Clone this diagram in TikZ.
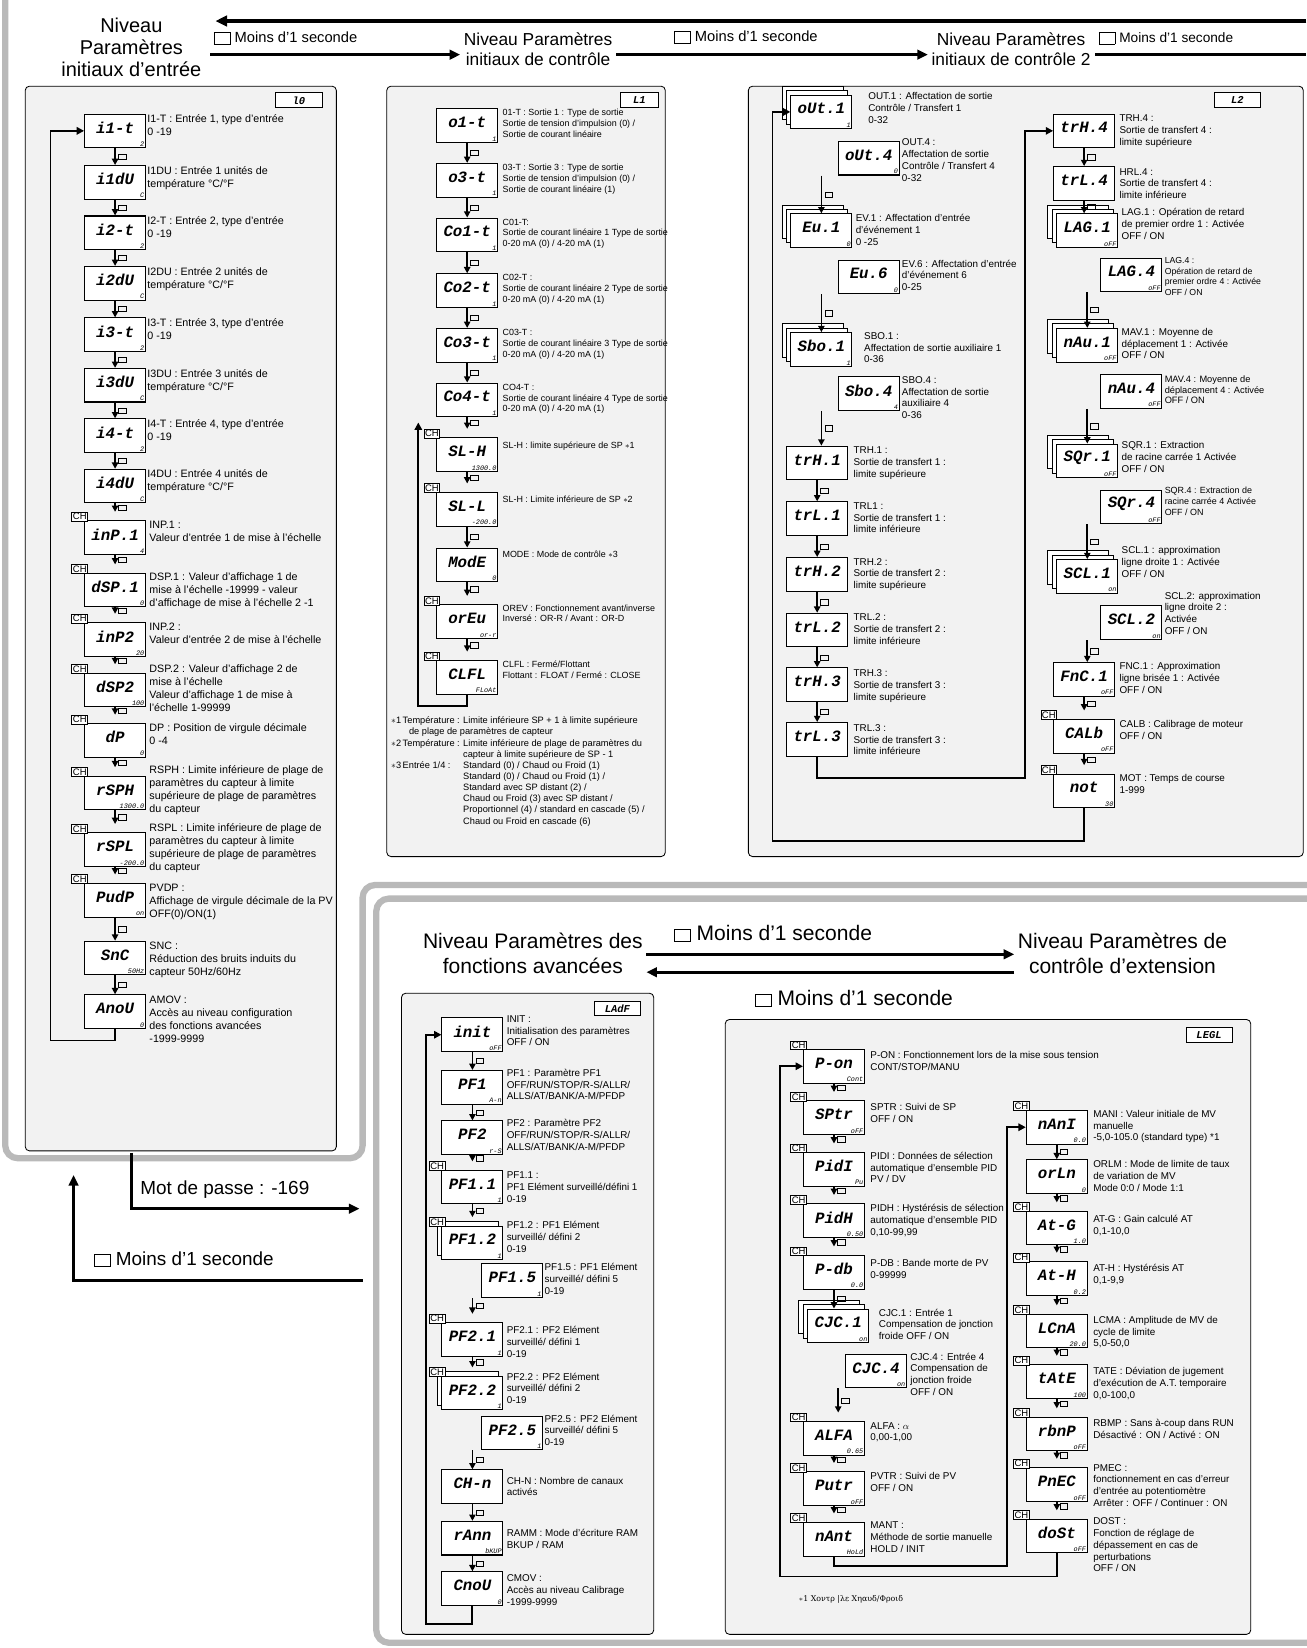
\documentclass[tikz,border=0pt]{standalone}
\usepackage{fontspec}
\setmainfont{Liberation Sans}
\newfontfamily\lcdfont{Liberation Mono}
\newfontfamily\grk{DejaVu Serif}
\usetikzlibrary{arrows.meta,positioning}
\tikzset{
  panel/.style={draw, line width=0.8pt, rounded corners=4pt, fill=gray!10},
  frame/.style={draw=gray!55, line width=6pt, rounded corners=12pt},
  lcd/.style={draw, line width=1pt, fill=white, minimum width=58pt, minimum height=32pt, anchor=north west, inner sep=0pt},
  lcdtxt/.style={font=\lcdfont\itshape\bfseries\fontsize{15}{15}\selectfont, inner sep=0pt},
  lcdsub/.style={font=\lcdfont\itshape\fontsize{6.5}{7}\selectfont, anchor=south east, inner sep=1.5pt},
  stk/.style={draw, line width=0.8pt, fill=white},
  chbox/.style={draw, line width=0.8pt, fill=white, font=\fontsize{9}{9}\selectfont, inner sep=1pt, anchor=north west},
  desc/.style={font=\fontsize{9.4}{11.2}\selectfont, align=left, anchor=north west, inner sep=0pt},
  hdr/.style={draw, line width=0.8pt, fill=white, minimum width=44pt, minimum height=14pt, anchor=north west, font=\lcdfont\itshape\bfseries\fontsize{10}{10}\selectfont, inner sep=0pt},
  keyic/.style={draw, line width=0.4pt, minimum width=7pt, minimum height=5pt, inner sep=0pt},
  dnarrow/.style={line width=1.6pt, -{Triangle[length=6pt,width=6pt]}},
  loopl/.style={line width=1.8pt, -{Triangle[length=7pt,width=7pt]}},
  bigarrow/.style={line width=2.6pt, -{Triangle[length=10pt,width=9pt]}},
  level/.style={font=\fontsize{19}{21}\selectfont, align=center},
  level2/.style={font=\fontsize{16.5}{19}\selectfont, align=center},
  moins/.style={font=\fontsize{16}{18}\selectfont},
}
\newcommand\sqbox{{\setlength\fboxsep{0pt}\raisebox{-1pt}{\fbox{\rule{0pt}{11pt}\hspace{15pt}}}}}
% display with optional subtext
\newcommand\lcd[5]{%
  \node[lcd] (#1) at (#2,#3) {};
  \node[lcdtxt] (#1t) at ([yshift=3pt]#1.center) {#4};
  \node[lcdsub] (#1s) at (#1.south east) {#5};}
\newcommand\chlcd[5]{%
  \lcd{#1}{#2}{#3}{#4}{#5}
  \node[chbox] (#1c) at ({#2-12},{#3-8}) {CH};}
\newcommand\stklcd[5]{%
  \draw[stk] ({#2-8},{#3-8}) rectangle ++(58,32);
  \draw[stk] ({#2-4},{#3-4}) rectangle ++(58,32);
  \lcd{#1}{#2}{#3}{#4}{#5}}
\newcommand\dn[2]{\draw[dnarrow] (#1.south) -- node[keyic,right=3pt] (#1k) {} (#1.south |- #2.north);}
\newcommand\dnx[3]{\draw[dnarrow] (#2.south |- #1.south) -- node[keyic,right=3pt] (#1k) {} (#2.south |- #3.north);}
\newcommand\desc[4]{\node[desc] (#1) at (#2,#3) {#4};}

\begin{document}
\begin{tikzpicture}[x=1pt,y=-1pt]
\useasboundingbox (0,0) rectangle (1243,1568);

% grey frames
\draw[frame] (5,-10) -- (5,1102) -- (345,1102) -- (345,842) -- (1260,842);
\draw[frame] (358,855) rectangle (1270,1563);

% top level headers
\node[level] (lvA) at (125,45) {Niveau\\Paramètres\\initiaux d'entrée};
\node[level2] (lvB) at (512,47) {Niveau Paramètres\\initiaux de contrôle};
\node[level2] (lvC) at (962,47) {Niveau Paramètres\\initiaux de contrôle 2};
\node[moins, font=\fontsize{14}{16}\selectfont, anchor=west] (mA) at (200,36) {\sqbox\ Moins d'1 seconde};
\node[moins, font=\fontsize{14}{16}\selectfont, anchor=west] (mB) at (638,35) {\sqbox\ Moins d'1 seconde};
\node[moins, font=\fontsize{13}{16}\selectfont, anchor=west] (mC) at (1042,36) {\sqbox\ Moins d'1 seconde};
\coordinate (topR) at (1243,20);
\coordinate (topL) at (205,20);
\coordinate (edgeR) at (1243,52);
\draw[line width=3pt, -{Triangle[length=11pt,width=10pt]}] (topR) -- (topL);
\draw[bigarrow] (mA.south west |- 0,52) -- (lvB.west |- 0,52);
\draw[bigarrow] (lvB.east |- 0,52) -- (lvC.west |- 0,52);
\draw[line width=2.6pt] (mC.south west |- 0,52) -- (edgeR);

% ---------- panel I0 ----------
\draw[panel] (24,82) rectangle (320,1095);
\node[hdr] (hI0) at (262,88) {l0};
\lcd{iAt}{80}{108}{i1-t}{2}
\lcd{iAu}{80}{157}{i1dU}{C}
\lcd{iBt}{80}{205}{i2-t}{2}
\lcd{iBu}{80}{253}{i2dU}{C}
\lcd{iCt}{80}{302}{i3-t}{2}
\lcd{iCu}{80}{350}{i3dU}{C}
\lcd{iDt}{80}{398}{i4-t}{2}
\lcd{iDu}{80}{446}{i4dU}{C}
\chlcd{inpA}{80}{495}{inP.1}{4}
\chlcd{dspA}{80}{545}{dSP.1}{0}
\chlcd{inpB}{80}{592}{inP2}{20}
\chlcd{dspB}{80}{640}{dSP2}{100}
\chlcd{dp}{80}{688}{dP}{0}
\chlcd{rsph}{80}{738}{rSPH}{1300.0}
\chlcd{rspl}{80}{792}{rSPL}{-200.0}
\chlcd{pvdp}{80}{840}{PudP}{on}
\lcd{snc}{80}{895}{SnC}{50Hz}
\lcd{amov}{80}{946}{AnoU}{0}
\dn{iAt}{iAu} \dn{iAu}{iBt} \dn{iBt}{iBu} \dn{iBu}{iCt} \dn{iCt}{iCu}
\dn{iCu}{iDt} \dn{iDt}{iDu} \dn{iDu}{inpAc} \dn{inpA}{dspAc} \dn{dspA}{inpBc}
\dn{inpB}{dspBc} \dn{dspB}{dpc} \dn{dp}{rsphc} \dn{rsph}{rsplc} \dn{rspl}{pvdpc}
\dn{pvdp}{snc} \dn{snc}{amov}
\coordinate (lpA) at (48,990);
\draw[loopl] (amov.south) |- (lpA) |- (iAt.west);
\begin{scope}[desc/.append style={font=\fontsize{10.2}{12.4}\selectfont}]
\desc{dAt}{140}{109}{I1-T : Entrée 1, type d'entrée\\ 0 -19}
\desc{dAu}{140}{158}{I1DU : Entrée 1 unités de\\température °C/°F}
\desc{dBt}{140}{206}{I2-T : Entrée 2, type d'entrée\\ 0 -19}
\desc{dBu}{140}{254}{I2DU : Entrée 2 unités de\\température °C/°F}
\desc{dCt}{140}{303}{I3-T : Entrée 3, type d'entrée\\ 0 -19}
\desc{dCu}{140}{351}{I3DU : Entrée 3 unités de\\température °C/°F}
\desc{dDt}{140}{399}{I4-T : Entrée 4, type d'entrée\\ 0 -19}
\desc{dDu}{140}{447}{I4DU : Entrée 4 unités de\\température °C/°F}
\desc{dinpA}{142}{496}{INP.1 :\\Valeur d'entrée 1 de mise à l'échelle}
\desc{ddspA}{142}{545}{DSP.1 : Valeur d'affichage 1 de\\mise à l'échelle -19999 - valeur\\d'affichage de mise à l'échelle 2 -1}
\desc{dinpB}{142}{593}{INP.2 :\\Valeur d'entrée 2 de mise à l'échelle}
\desc{ddspB}{142}{632}{DSP.2 : Valeur d'affichage 2 de\\mise à l'échelle\\Valeur d'affichage 1 de mise à\\l'échelle 1-99999}
\desc{ddp}{142}{688}{DP : Position de virgule décimale\\0 -4}
\desc{drsph}{142}{728}{RSPH : Limite inférieure de plage de\\paramètres du capteur à limite\\supérieure de plage de paramètres\\du capteur}
\desc{drspl}{142}{783}{RSPL : Limite inférieure de plage de\\paramètres du capteur à limite\\supérieure de plage de paramètres\\du capteur}
\desc{dpvdp}{142}{841}{PVDP :\\Affichage de virgule décimale de la PV\\OFF(0)/ON(1)}
\desc{dsnc}{142}{896}{SNC :\\Réduction des bruits induits du\\capteur 50Hz/60Hz}
\desc{damov}{142}{947}{AMOV :\\Accès au niveau configuration\\des fonctions avancées\\-1999-9999}
\end{scope}

% ---------- panel L1 ----------
\draw[panel] (368,82) rectangle (633,815);
\node[hdr, minimum width=36pt] (hL1) at (590,88) {L1};
\lcd{oA}{415}{103}{o1-t}{1}
\lcd{oC}{415}{155}{o3-t}{1}
\lcd{coA}{415}{207}{Co1-t}{1}
\lcd{coB}{415}{260}{Co2-t}{1}
\lcd{coC}{415}{312}{Co3-t}{1}
\lcd{coD}{415}{364}{Co4-t}{1}
\chlcd{slh}{415}{416}{SL-H}{1300.0}
\chlcd{sll}{415}{468}{SL-L}{-200.0}
\lcd{mode}{415}{521}{ModE}{0}
\chlcd{orev}{415}{575}{orEu}{or-r}
\chlcd{clfl}{415}{628}{CLFL}{FLoAt}
\dn{oA}{oC} \dn{oC}{coA} \dn{coA}{coB} \dn{coB}{coC} \dn{coC}{coD}
\dn{coD}{slhc} \dn{slh}{sllc} \dn{sll}{mode} \dn{mode}{orevc} \dn{orev}{clflc}
\coordinate (lpB) at (398,672);
\coordinate (lpC) at (398,402);
\draw[loopl] (clfl.south) |- (lpB) -- (lpC);
\begin{scope}[desc/.append style={font=\fontsize{8.5}{10.4}\selectfont}]
\desc{doA}{478}{104}{01-T : Sortie 1 : Type de sortie\\Sortie de tension d'impulsion (0) /\\Sortie de courant linéaire}
\desc{doC}{478}{156}{03-T : Sortie 3 : Type de sortie\\Sortie de tension d'impulsion (0) /\\Sortie de courant linéaire (1)}
\desc{dcoA}{478}{208}{C01-T:\\Sortie de courant linéaire 1 Type de sortie\\0-20 mA (0) / 4-20 mA (1)}
\desc{dcoB}{478}{261}{C02-T :\\Sortie de courant linéaire 2 Type de sortie\\0-20 mA (0) / 4-20 mA (1)}
\desc{dcoC}{478}{313}{C03-T :\\Sortie de courant linéaire 3 Type de sortie\\0-20 mA (0) / 4-20 mA (1)}
\desc{dcoD}{478}{365}{CO4-T :\\Sortie de courant linéaire 4 Type de sortie\\0-20 mA (0) / 4-20 mA (1)}
\desc{dslh}{478}{420}{SL-H : limite supérieure de SP $\ast$1}
\desc{dsll}{478}{472}{SL-H : Limite inférieure de SP $\ast$2}
\desc{dmode}{478}{524}{MODE : Mode de contrôle $\ast$3}
\desc{dorev}{478}{575}{OREV : Fonctionnement avant/inverse\\Inversé : OR-R / Avant : OR-D}
\desc{dclfl}{478}{629}{CLFL : Fermé/Flottant\\Flottant : FLOAT / Fermé : CLOSE}
\node[desc, font=\fontsize{8.8}{10.6}\selectfont] (fnL1) at (372,681) {%
\begin{tabular}{@{}l@{\,}l@{ }l@{}}
$\ast$1 & Température : & Limite inférieure SP + 1 à limite supérieure\\
 & \multicolumn{2}{l}{de plage de paramètres de capteur}\\
$\ast$2 & Température : & Limite inférieure de plage de paramètres du\\
 & & capteur à limite supérieure de SP - 1\\
$\ast$3 & Entrée 1/4 : & Standard (0) / Chaud ou Froid (1)\\
 & & Standard (0) / Chaud ou Froid (1) /\\
 & & Standard avec SP distant (2) /\\
 & & Chaud ou Froid (3) avec SP distant /\\
 & & Proportionnel (4) / standard en cascade (5) /\\
 & & Chaud ou Froid en cascade (6)
\end{tabular}};
\end{scope}

% ---------- panel L2 ----------
\draw[panel] (712,82) rectangle (1240,815);
\node[hdr] (hL2) at (1155,88) {L2};
\stklcd{outA}{752}{90}{oUt.1}{1}
\lcd{outD}{797}{134}{oUt.4}{0}
\stklcd{evA}{752}{203}{Eu.1}{0}
\lcd{evF}{797}{247}{Eu.6}{0}
\stklcd{sboA}{752}{316}{Sbo.1}{1}
\lcd{sboD}{797}{358}{Sbo.4}{4}
\lcd{trhA}{748}{424}{trH.1}{}
\lcd{trlA}{748}{477}{trL.1}{}
\lcd{trhB}{748}{530}{trH.2}{}
\lcd{trlB}{748}{583}{trL.2}{}
\lcd{trhC}{748}{635}{trH.3}{}
\lcd{trlC}{748}{687}{trL.3}{}
\dnx{outD}{outA}{evA} \dnx{evF}{evA}{sboA} \dnx{sboD}{sboA}{trhA}
\dn{trhA}{trlA} \dn{trlA}{trhB} \dn{trhB}{trlB} \dn{trlB}{trhC} \dn{trhC}{trlC}
\lcd{trhD}{1002}{108}{trH.4}{}
\lcd{trlD}{1002}{158}{trL.4}{}
\stklcd{lagA}{1005}{203}{LAG.1}{oFF}
\lcd{lagD}{1047}{245}{LAG.4}{oFF}
\stklcd{mavA}{1005}{312}{nAu.1}{oFF}
\lcd{mavD}{1047}{356}{nAu.4}{oFF}
\stklcd{sqrA}{1005}{422}{SQr.1}{oFF}
\lcd{sqrD}{1047}{466}{SQr.4}{oFF}
\stklcd{sclA}{1005}{532}{SCL.1}{on}
\lcd{sclB}{1047}{576}{SCL.2}{on}
\lcd{fncA}{1002}{630}{FnC.1}{oFF}
\chlcd{calb}{1002}{684}{CALb}{oFF}
\chlcd{mot}{1002}{736}{not}{30}
\dn{trhD}{trlD} \dn{trlD}{lagA} \dnx{lagD}{lagA}{mavA} \dnx{mavD}{mavA}{sqrA}
\dnx{sqrD}{sqrA}{sclA} \dnx{sclB}{sclA}{fncA} \dn{fncA}{calbc} \dn{calb}{motc}
\coordinate (lpD) at (975,740);
\coordinate (lpE) at (735,800);
\draw[loopl] (trlC.south) |- (lpD) |- (trhD.west);
\draw[loopl] (mot.south) |- (lpE) |- (outA.west);
\desc{doutA}{826}{88}{OUT.1 : Affectation de sortie\\Contrôle / Transfert 1\\0-32}
\desc{doutD}{858}{132}{OUT.4 :\\Affectation de sortie\\Contrôle / Transfert 4\\0-32}
\desc{devA}{814}{204}{EV.1 : Affectation d'entrée\\d'événement 1\\0 -25}
\desc{devF}{858}{247}{EV.6 : Affectation d'entrée\\d'événement 6\\0-25}
\desc{dsboA}{822}{316}{SBO.1 :\\Affectation de sortie auxiliaire 1\\0-36}
\desc{dsboD}{858}{358}{SBO.4 :\\Affectation de sortie\\auxiliaire 4\\0-36}
\desc{dtrhA}{812}{425}{TRH.1 :\\Sortie de transfert 1 :\\limite supérieure}
\desc{dtrlA}{812}{478}{TRL1 :\\Sortie de transfert 1 :\\limite inférieure}
\desc{dtrhB}{812}{531}{TRH.2 :\\Sortie de transfert 2 :\\limite supérieure}
\desc{dtrlB}{812}{584}{TRL.2 :\\Sortie de transfert 2 :\\limite inférieure}
\desc{dtrhC}{812}{637}{TRH.3 :\\Sortie de transfert 3 :\\limite supérieure}
\desc{dtrlC}{812}{689}{TRL.3 :\\Sortie de transfert 3 :\\limite inférieure}
\desc{dtrhD}{1065}{109}{TRH.4 :\\Sortie de transfert 4 :\\limite supérieure}
\desc{dtrlD}{1065}{160}{HRL.4 :\\Sortie de transfert 4 :\\limite inférieure}
\desc{dlagA}{1067}{198}{LAG.1 : Opération de retard\\de premier ordre 1 : Activée\\OFF / ON}
\node[desc, font=\fontsize{8.3}{10}\selectfont] (dlagD) at (1108,245) {LAG.4 :\\Opération de retard de\\premier ordre 4 : Activée\\OFF / ON};
\desc{dmavA}{1067}{312}{MAV.1 : Moyenne de\\déplacement 1 : Activée\\OFF / ON}
\node[desc, font=\fontsize{8.8}{10.4}\selectfont] (dmavD) at (1108,357) {MAV.4 : Moyenne de\\déplacement 4 : Activée\\OFF / ON};
\desc{dsqrA}{1067}{420}{SQR.1 : Extraction\\de racine carrée 1 Activée\\OFF / ON}
\node[desc, font=\fontsize{8.5}{10.4}\selectfont] (dsqrD) at (1108,463) {SQR.4 : Extraction de\\racine carrée 4 Activée\\OFF / ON};
\desc{dsclA}{1067}{520}{SCL.1 : approximation\\ligne droite 1 : Activée\\OFF / ON}
\desc{dsclB}{1108}{563}{SCL.2: approximation\\ligne droite 2 :\\Activée\\OFF / ON}
\desc{dfncA}{1065}{630}{FNC.1 : Approximation\\ligne brisée 1 : Activée\\OFF / ON}
\desc{dcalb}{1065}{685}{CALB : Calibrage de moteur\\OFF / ON}
\desc{dmot}{1065}{737}{MOT : Temps de course\\1-999}

% ---------- lower-left links ----------
\coordinate (pwA) at (125,1097);
\coordinate (pwB) at (342,1150);
\coordinate (rtA) at (345,1218);
\coordinate (rtB) at (70,1118);
\draw[bigarrow] (pwA) |- (pwB);
\draw[bigarrow] (rtA) -| (rtB);
\node[moins, font=\fontsize{18}{20}\selectfont, anchor=west] (mdp) at (130,1132) {Mot de passe : -169};
\node[moins, font=\fontsize{18}{20}\selectfont, anchor=west] (mD) at (86,1198) {\sqbox\ Moins d'1 seconde};

% ---------- lower headers ----------
\node[level, font=\fontsize{20}{23}\selectfont] (lvD) at (507,907) {Niveau Paramètres des\\fonctions avancées};
\node[level, font=\fontsize{20}{23}\selectfont] (lvE) at (1068,907) {Niveau Paramètres de\\contrôle d'extension};
\node[moins, font=\fontsize{20}{22}\selectfont, anchor=west] (mE) at (638,888) {\sqbox\ Moins d'1 seconde};
\node[moins, font=\fontsize{20}{22}\selectfont, anchor=west] (mF) at (715,950) {\sqbox\ Moins d'1 seconde};
\draw[bigarrow] (lvD.east |- 0,908) -- (lvE.west |- 0,908);
\draw[bigarrow] (lvE.west |- 0,925) -- (lvD.east |- 0,925);

% ---------- panel LAdF ----------
\draw[panel] (382,945) rectangle (622,1555);
\node[hdr] (hLA) at (565,952) {LAdF};
\lcd{init}{420}{968}{init}{oFF}
\lcd{pfA}{420}{1018}{PF1}{A-n}
\lcd{pfB}{420}{1066}{PF2}{r-S}
\chlcd{pfAa}{420}{1113}{PF1.1}{1}
\draw[stk] (416,1162) rectangle ++(58,32);
\chlcd{pfAb}{420}{1166}{PF1.2}{1}
\lcd{pfAe}{458}{1202}{PF1.5}{1}
\chlcd{pfBa}{420}{1258}{PF2.1}{1}
\draw[stk] (416,1305) rectangle ++(58,32);
\chlcd{pfBb}{420}{1309}{PF2.2}{1}
\lcd{pfBe}{458}{1347}{PF2.5}{1}
\lcd{chn}{420}{1398}{CH-n}{}
\lcd{ramm}{420}{1447}{rAnn}{bKUP}
\lcd{cmov}{420}{1495}{CnoU}{0}
\dn{init}{pfA} \dn{pfA}{pfB} \dn{pfB}{pfAac} \dn{pfAa}{pfAbc}
\dnx{pfAe}{pfAb}{pfBac} \dn{pfBa}{pfBbc} \dnx{pfBe}{pfBb}{chn}
\dn{chn}{ramm} \dn{ramm}{cmov}
\coordinate (lpF) at (405,1545);
\draw[loopl] (cmov.south) |- (lpF) |- (init.west);
\desc{dinit}{482}{966}{INIT :\\Initialisation des paramètres\\OFF / ON}
\desc{dpfA}{482}{1017}{PF1 : Paramètre PF1\\OFF/RUN/STOP/R-S/ALLR/\\ALLS/AT/BANK/A-M/PFDP}
\desc{dpfB}{482}{1065}{PF2 : Paramètre PF2\\OFF/RUN/STOP/R-S/ALLR/\\ALLS/AT/BANK/A-M/PFDP}
\desc{dpfAa}{482}{1115}{PF1.1 :\\PF1 Elément surveillé/défini 1\\0-19}
\desc{dpfAb}{482}{1162}{PF1.2 : PF1 Elément\\surveillé/ défini 2\\0-19}
\desc{dpfAe}{518}{1202}{PF1.5 : PF1 Elément\\surveillé/ défini 5\\0-19}
\desc{dpfBa}{482}{1262}{PF2.1 : PF2 Elément\\surveillé/ défini 1\\0-19}
\desc{dpfBb}{482}{1306}{PF2.2 : PF2 Elément\\surveillé/ défini 2\\0-19}
\desc{dpfBe}{518}{1346}{PF2.5 : PF2 Elément\\surveillé/ défini 5\\0-19}
\desc{dchn}{482}{1405}{CH-N : Nombre de canaux\\activés}
\desc{dramm}{482}{1455}{RAMM : Mode d'écriture RAM\\BKUP / RAM}
\desc{dcmov}{482}{1498}{CMOV :\\Accès au niveau Calibrage\\-1999-9999}

% ---------- panel LEGL ----------
\draw[panel] (690,970) rectangle (1190,1555);
\node[hdr] (hLE) at (1128,977) {LEGL};
\chlcd{pon}{764}{998}{P-on}{Cont}
\chlcd{sptr}{764}{1047}{SPtr}{oFF}
\chlcd{pidi}{764}{1096}{PidI}{Pu}
\chlcd{pidh}{764}{1145}{PidH}{0.50}
\chlcd{pdb}{764}{1194}{P-db}{0.0}
\stklcd{cjcA}{768}{1245}{CJC.1}{on}
\lcd{cjcD}{804}{1288}{CJC.4}{on}
\chlcd{alfa}{764}{1352}{ALFA}{0.65}
\chlcd{pvtr}{764}{1400}{Putr}{oFF}
\chlcd{mant}{764}{1448}{nAnt}{HoLd}
\dn{pon}{sptrc} \dn{sptr}{pidic} \dn{pidi}{pidhc} \dn{pidh}{pdbc} \dn{pdb}{cjcA}
\dnx{cjcD}{cjcA}{alfac} \dn{alfa}{pvtrc} \dn{pvtr}{mantc}
\chlcd{mani}{976}{1056}{nAnI}{0.0}
\lcd{orlm}{976}{1103}{orLn}{0}
\chlcd{atg}{976}{1152}{At-G}{1.0}
\chlcd{ath}{976}{1200}{At-H}{0.2}
\chlcd{lcma}{976}{1250}{LCnA}{20.0}
\chlcd{tate}{976}{1298}{tAtE}{100}
\chlcd{rbmp}{976}{1348}{rbnP}{oFF}
\chlcd{pmec}{976}{1396}{PnEC}{oFF}
\chlcd{dost}{976}{1445}{doSt}{oFF}
\dn{mani}{orlm} \dn{orlm}{atgc} \dn{atg}{athc} \dn{ath}{lcmac} \dn{lcma}{tatec}
\dn{tate}{rbmpc} \dn{rbmp}{pmecc} \dn{pmec}{dostc}
\coordinate (lpG) at (958,1490);
\coordinate (lpH) at (742,1500);
\draw[loopl] (mant.south) |- (lpG) |- (mani.west);
\draw[loopl] (dost.south) |- (lpH) |- (pon.west);
\desc{dpon}{828}{1000}{P-ON : Fonctionnement lors de la mise sous tension\\CONT/STOP/MANU}
\desc{dsptr}{828}{1050}{SPTR : Suivi de SP\\OFF / ON}
\desc{dpidi}{828}{1096}{PIDI : Données de sélection\\automatique d'ensemble PID\\PV / DV}
\desc{dpidh}{828}{1146}{PIDH : Hystérésis de sélection\\automatique d'ensemble PID\\0,10-99,99}
\desc{dpdb}{828}{1198}{P-DB : Bande morte de PV\\0-99999}
\desc{dcjcA}{836}{1245}{CJC.1 : Entrée 1\\Compensation de jonction\\froide OFF / ON}
\desc{dcjcD}{866}{1287}{CJC.4 : Entrée 4\\Compensation de\\jonction froide\\OFF / ON}
\desc{dalfa}{828}{1353}{ALFA : $\alpha$\\0,00-1,00}
\desc{dpvtr}{828}{1401}{PVTR : Suivi de PV\\OFF / ON}
\desc{dmant}{828}{1448}{MANT :\\Méthode de sortie manuelle\\HOLD / INIT}
\desc{dmani}{1040}{1056}{MANI : Valeur initiale de MV\\manuelle\\-5,0-105.0 (standard type) *1}
\desc{dorlm}{1040}{1104}{ORLM : Mode de limite de taux\\de variation de MV\\Mode 0:0 / Mode 1:1}
\desc{datg}{1040}{1156}{AT-G : Gain calculé AT\\0,1-10,0}
\desc{dath}{1040}{1203}{AT-H : Hystérésis AT\\0,1-9,9}
\desc{dlcma}{1040}{1252}{LCMA : Amplitude de MV de\\cycle de limite\\5,0-50,0}
\desc{dtate}{1040}{1301}{TATE : Déviation de jugement\\d'exécution de A.T. temporaire\\0,0-100,0}
\desc{drbmp}{1040}{1350}{RBMP : Sans à-coup dans RUN\\Désactivé : ON / Activé : ON}
\desc{dpmec}{1040}{1393}{PMEC :\\fonctionnement en cas d'erreur\\d'entrée au potentiomètre\\Arrêter : OFF / Continuer : ON}
\desc{ddost}{1040}{1444}{DOST :\\Fonction de réglage de\\dépassement en cas de\\perturbations\\OFF / ON}
\node[desc, font=\grk\fontsize{7.5}{9}\selectfont] (fnLE) at (760,1518) {$\ast$1 Χοντρ |λε Χηαυδ/Φροιδ};
\end{tikzpicture}
\end{document}
